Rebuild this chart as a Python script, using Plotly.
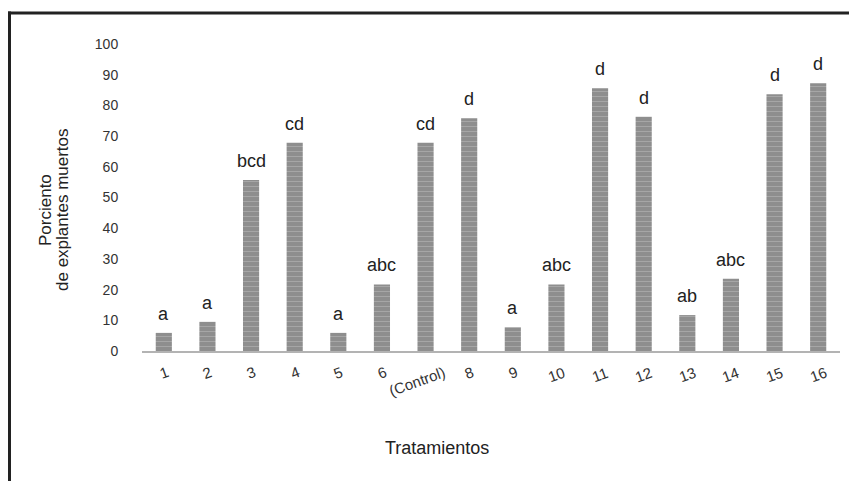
import plotly.graph_objects as go

# ---- data ----
categories = ["1", "2", "3", "4", "5", "6", "7", "8", "9", "10", "11", "12", "13", "14", "15", "16"]
tick_labels = ["1", "2", "3", "4", "5", "6", "(Control)", "8", "9", "10", "11", "12", "13", "14", "15", "16"]
values = [5.9, 9.5, 55.7, 67.8, 5.9, 21.7, 67.8, 75.8, 7.7, 21.7, 85.6, 76.3, 11.7, 23.5, 83.6, 87.2]
letters = ["a", "a", "bcd", "cd", "a", "abc", "cd", "d", "a", "abc", "d", "d", "ab", "abc", "d", "d"]
y_ticks = [0, 10, 20, 30, 40, 50, 60, 70, 80, 90, 100]
y_title_lines = ["Porciento", "de explantes muertos"]

# ---- layout geometry ----
# The page body adds an 8px offset, so the figure is drawn 8px smaller
OFF = 8
SW, SH = 857, 481                 # screen size
SL, SR, ST, SB = 142, 840, 44, 351  # plot area in screen pixels
W, H = SW - OFF, SH - OFF
L, T = SL - OFF, ST - OFF
R, B = SW - SR, SH - SB
PW, PH = SR - SL, SB - ST


def px2x(px):
    return (px - SL) / PW


def py2y(py):
    return (SB - py) / PH


FONT = "Liberation Sans, Arial, Helvetica, sans-serif"

fig = go.Figure()
fig.add_trace(go.Bar(
    x=categories,
    y=values,
    marker=dict(
        color="#8e8e8e",
        line=dict(width=0),
        pattern=dict(shape="-", bgcolor="#8e8e8e", fgcolor="#c4c4c4", size=5, solidity=0.18),
    ),
    hoverinfo="x+y",
))

annotations = []
# letters above bars (x given as category index)
for i, (v, t) in enumerate(zip(values, letters)):
    annotations.append(dict(
        x=i, y=v, xref="x", yref="y", text=t, showarrow=False,
        yanchor="bottom", yshift=7,
        font=dict(family=FONT, size=18, color="#222222"),
    ))
# rotated category labels
for i, t in enumerate(tick_labels):
    annotations.append(dict(
        x=i, y=py2y(361), xref="x", yref="paper", text=t, showarrow=False,
        yanchor="top", xanchor="center", textangle=-20,
        xshift=-9 if len(t) > 3 else 0,
        font=dict(family=FONT, size=15, color="#333333"),
    ))
# axis titles
annotations.append(dict(
    x=px2x(437), y=py2y(448), xref="paper", yref="paper", text="Tratamientos",
    showarrow=False, xanchor="center", yanchor="middle",
    font=dict(family=FONT, size=18, color="#222222"),
))
for k, line in enumerate(y_title_lines):
    annotations.append(dict(
        x=px2x(45 + 17 * k), y=py2y(210), xref="paper", yref="paper",
        text=line, textangle=-90,
        showarrow=False, xanchor="center", yanchor="middle",
        font=dict(family=FONT, size=17, color="#222222"),
    ))

shapes = [
    dict(type="line", xref="paper", yref="paper",
         x0=px2x(OFF), x1=px2x(SW), y0=py2y(13), y1=py2y(13),
         line=dict(color="#222222", width=3)),
    dict(type="line", xref="paper", yref="paper",
         x0=px2x(OFF + 1.5), x1=px2x(OFF + 1.5), y0=py2y(11.5), y1=py2y(SH),
         line=dict(color="#222222", width=3)),
]

fig.update_layout(
    width=W, height=H,
    margin=dict(l=L, r=R, t=T, b=B, pad=0, autoexpand=False),
    paper_bgcolor="white", plot_bgcolor="white",
    showlegend=False,
    bargap=0.63,
    annotations=annotations,
    shapes=shapes,
    font=dict(family=FONT, color="#333333"),
)
fig.update_xaxes(
    type="category", range=[-0.5, len(categories) - 0.5],
    showticklabels=False, showgrid=False, zeroline=False,
    showline=True, linecolor="#b3b3b3", linewidth=2, ticks="",
)
fig.update_yaxes(
    range=[0, 100], tickvals=y_ticks, showgrid=False, zeroline=False, showline=False,
    ticks="outside", ticklen=20, tickcolor="rgba(0,0,0,0)",
    tickfont=dict(family=FONT, size=14, color="#333333"),
)

fig.write_html("out.html")
